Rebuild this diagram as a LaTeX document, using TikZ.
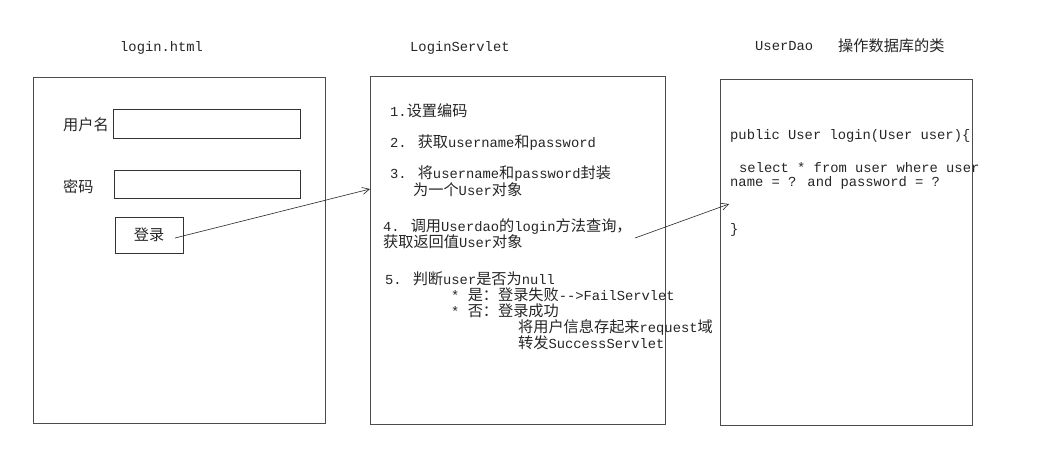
\documentclass[tikz,border=0pt]{standalone}
\usepackage{fontspec}
\setmainfont[Ligatures=NoCommon]{Liberation Mono}
\newfontfamily\cjk[Scale=1.1]{Noto Sans CJK SC}
\newcommand{\zh}[1]{{\cjk #1}}
\usetikzlibrary{arrows.meta}
\begin{document}
\begin{tikzpicture}[x=1pt,y=-1pt,
  txt/.style={anchor=west,inner sep=0pt,font=\fontsize{13.8}{15}\selectfont,text=black!85},
  panel/.style={draw=black!70,line width=0.8pt,inner sep=0pt},
  field/.style={draw=black!80,line width=0.8pt,inner sep=0pt},
  link/.style={-{Straight Barb[length=7pt,width=7pt]},line width=0.6pt,draw=black!85}]
\useasboundingbox[fill=white] (0,0) rectangle (1049,467);
% panels
\node[panel,minimum width=292pt,minimum height=346pt] (html) at (179,250) {};
\node[panel,minimum width=295pt,minimum height=348pt] (servlet) at (517.5,250) {};
\node[panel,minimum width=252pt,minimum height=346pt] (dao) at (846,252) {};
% titles
\node[txt] (thtml) at (120,48) {login.html};
\node[txt] (tservlet) at (410,48) {LoginServlet};
\node[txt] (tdao) at (755,46) {UserDao};
\node[txt] (tdaozh) at (838,46) {\zh{操作数据库的类}};
% login form
\node[txt] (luser) at (63,125) {\zh{用户名}};
\node[field,minimum width=187pt,minimum height=29pt] (fuser) at (206.5,123.5) {};
\node[txt] (lpwd) at (63,187) {\zh{密码}};
\node[field,minimum width=186pt,minimum height=28pt] (fpwd) at (207,184) {};
\node[field,minimum width=68pt,minimum height=36pt,font=\fontsize{13.8}{15}\selectfont,text=black!85] (btn) at (149,235) {\zh{登录}};
% servlet steps
\node[txt] (s1) at (390,111) {1.\zh{设置编码}};
\node[txt] (s2) at (390,143) {2. \zh{获取}username\zh{和}password};
\node[txt] (s3) at (390,174) {3. \zh{将}username\zh{和}password\zh{封装}};
\node[txt] (s3b) at (413,190) {\zh{为一个}User\zh{对象}};
\node[txt] (s4) at (383,226) {4. \zh{调用}Userdao\zh{的}login\zh{方法查询，}};
\node[txt] (s4b) at (383,242) {\zh{获取返回值}User\zh{对象}};
\node[txt] (s5) at (385,279) {5. \zh{判断}user\zh{是否为}null};
\node[txt] (s5a) at (451,295) {* \zh{是：登录失败}-{}-{}>FailServlet};
\node[txt] (s5b) at (451,311) {* \zh{否：登录成功}};
\node[txt] (s5c) at (518,327) {\zh{将用户信息存起来}request\zh{域}};
\node[txt] (s5d) at (518,343) {\zh{转发}SuccessServlet};
% dao code
\node[txt] (c1) at (730,136) {public User login(User user)\{};
\node[txt] (c2) at (739,168) {select * from user where user};
\node[txt] (c3) at (730,183) {name = ? and password = ?};
\node[txt] (c4) at (730,230) {\}};
% connectors
\coordinate (a1s) at (175,238);
\coordinate (a1e) at (370,189);
\coordinate (a2s) at (635,238);
\coordinate (a2e) at (729,204);
\draw[link] (a1s) -- (a1e);
\draw[link] (a2s) -- (a2e);
\end{tikzpicture}
\end{document}
